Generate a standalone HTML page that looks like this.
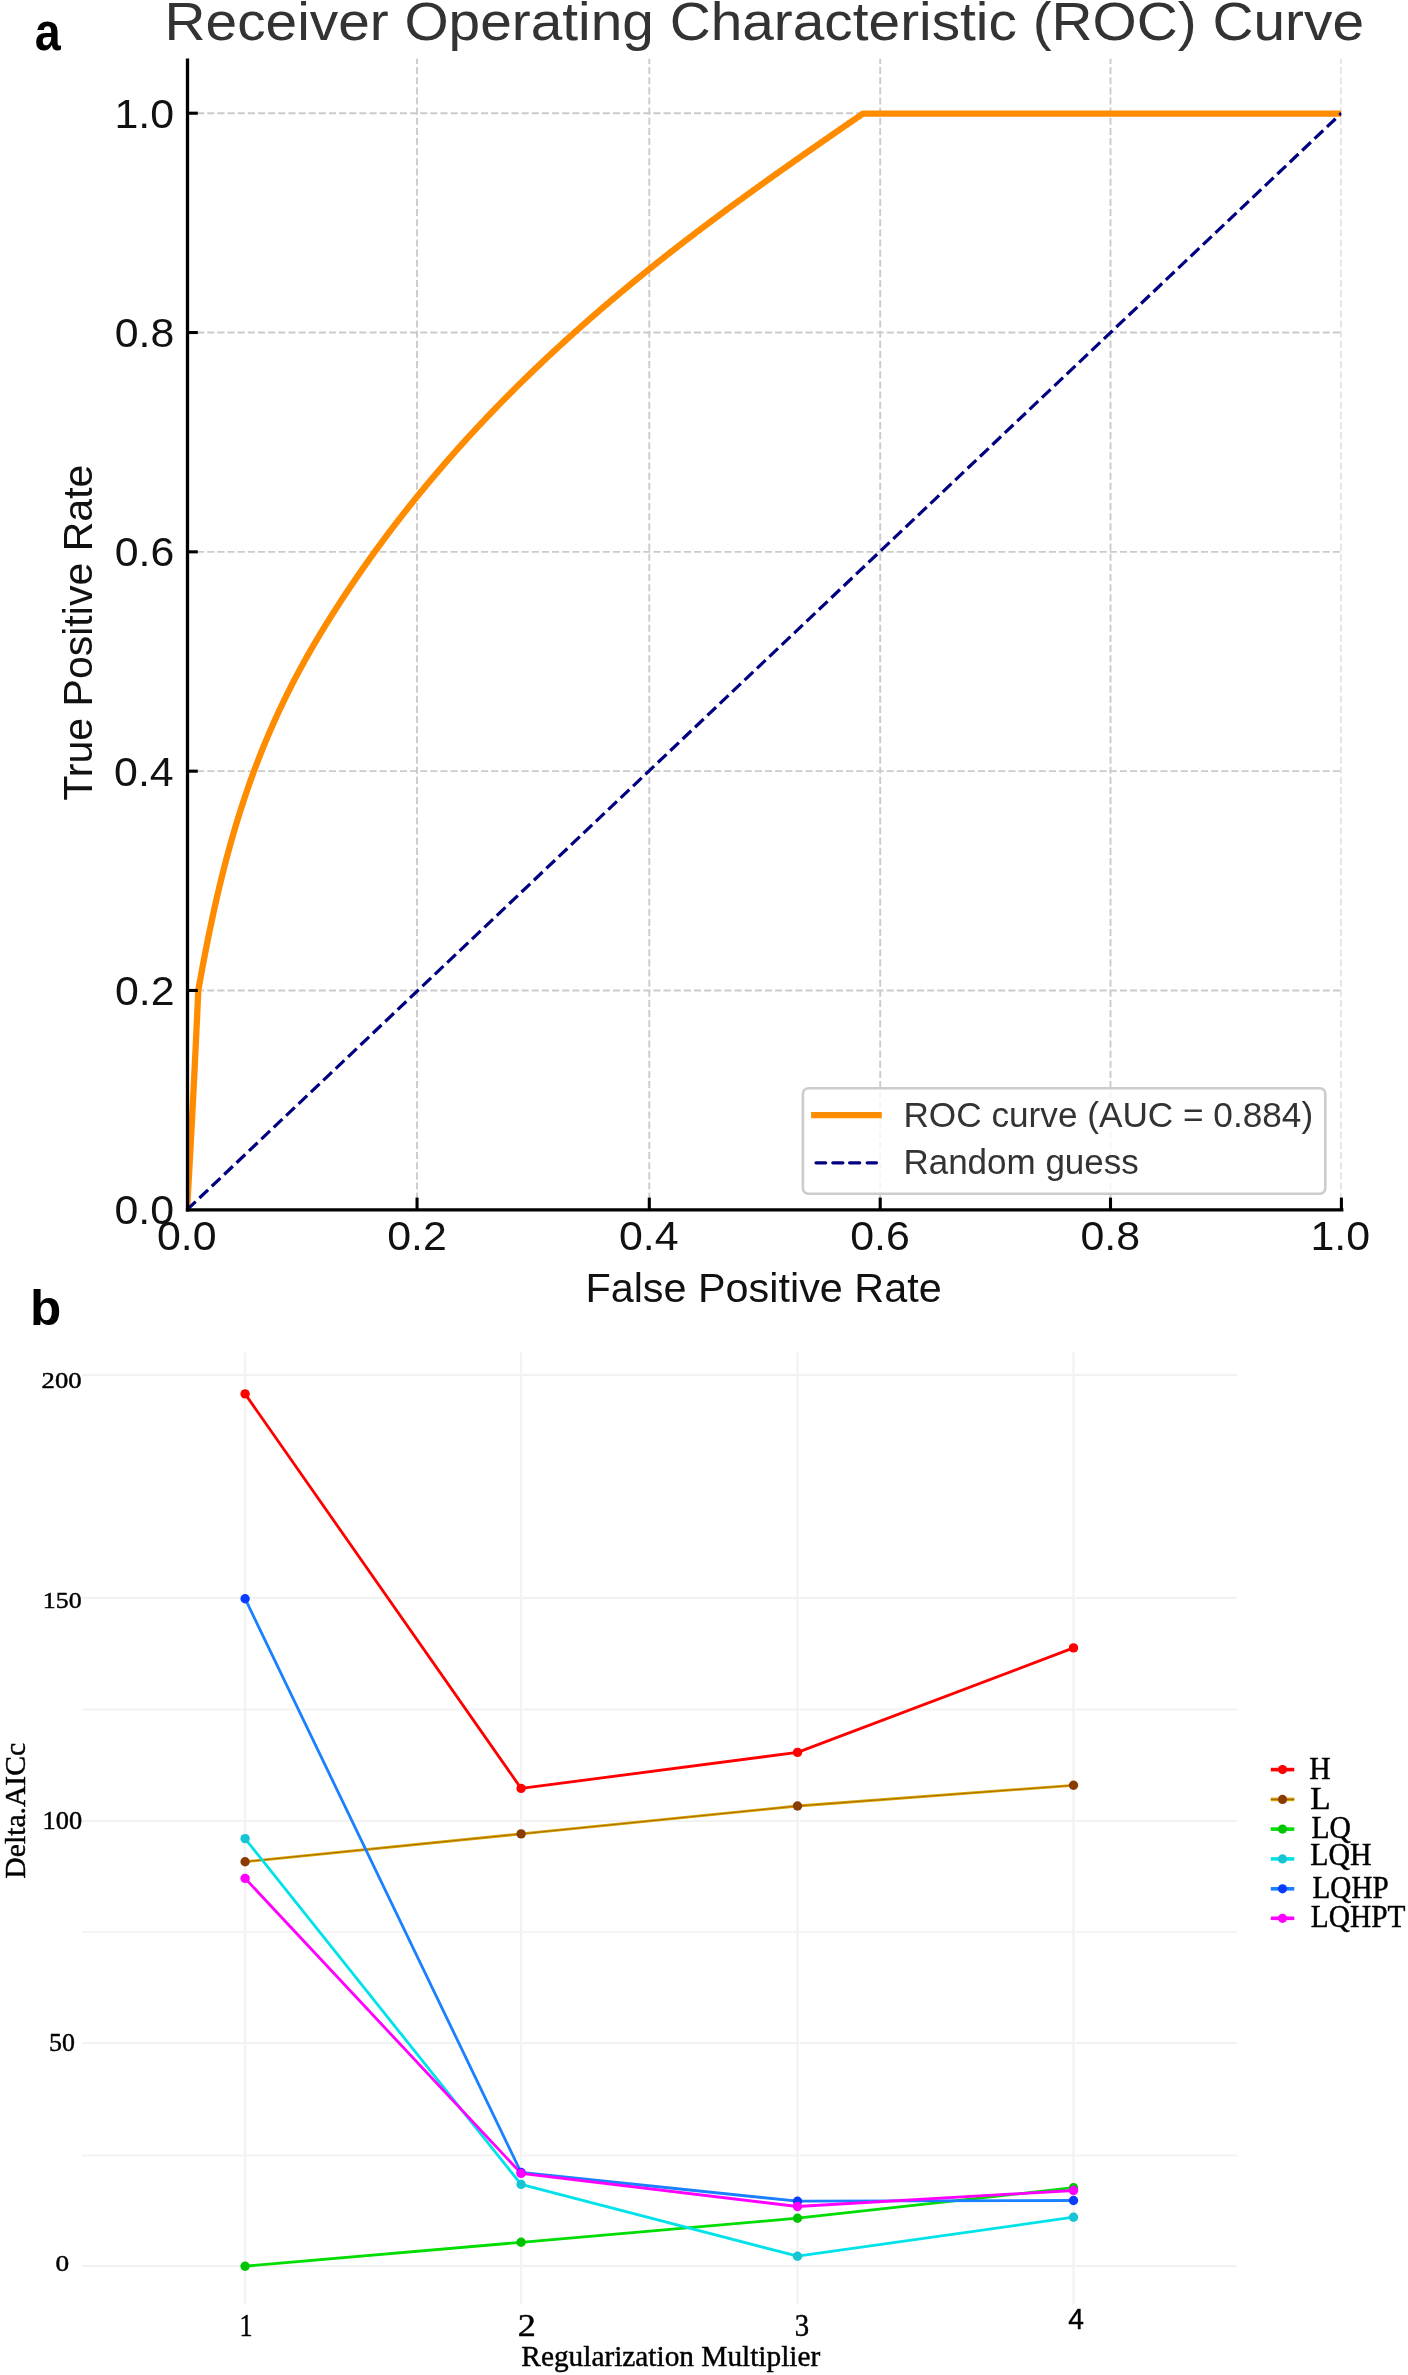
<!DOCTYPE html>
<html><head><meta charset="utf-8"><title>ROC curve and Delta.AICc</title>
<style>html,body{margin:0;padding:0;background:#fff;}svg{display:block;will-change:transform;}</style></head>
<body><svg width="1408" height="2375" viewBox="0 0 1408 2375">
<rect width="1408" height="2375" fill="#fff"/>
<clipPath id="axA"><rect x="187.0" y="58.5" width="1154.40" height="1151.30"/></clipPath>
<g clip-path="url(#axA)">
<path d="M187.00 990.48H1341.40" stroke="#cbcbcb" stroke-width="1.9" stroke-dasharray="7.08 3.06" fill="none"/>
<path d="M187.00 771.16H1341.40" stroke="#cbcbcb" stroke-width="1.9" stroke-dasharray="7.08 3.06" fill="none"/>
<path d="M187.00 551.84H1341.40" stroke="#cbcbcb" stroke-width="1.9" stroke-dasharray="7.08 3.06" fill="none"/>
<path d="M187.00 332.52H1341.40" stroke="#cbcbcb" stroke-width="1.9" stroke-dasharray="7.08 3.06" fill="none"/>
<path d="M187.00 113.20H1341.40" stroke="#cbcbcb" stroke-width="1.9" stroke-dasharray="7.08 3.06" fill="none"/>
<path d="M417.05 1209.80V58.50" stroke="#cbcbcb" stroke-width="1.9" stroke-dasharray="7.08 3.06" fill="none"/>
<path d="M649.30 1209.80V58.50" stroke="#cbcbcb" stroke-width="1.9" stroke-dasharray="7.08 3.06" fill="none"/>
<path d="M880.20 1209.80V58.50" stroke="#cbcbcb" stroke-width="1.9" stroke-dasharray="7.08 3.06" fill="none"/>
<path d="M1110.50 1209.80V58.50" stroke="#cbcbcb" stroke-width="1.9" stroke-dasharray="7.08 3.06" fill="none"/>
<path d="M1341.40 1209.80V58.50" stroke="#cbcbcb" stroke-width="1.9" stroke-dasharray="7.08 3.06" fill="none"/>
</g>
<g clip-path="url(#axA)">
<path d="M187.00 1209.80 L187.33 1204.17 L187.65 1198.54 L187.98 1192.91 L188.30 1187.28 L188.62 1181.65 L188.94 1176.02 L189.25 1170.38 L189.56 1164.75 L189.88 1159.12 L190.19 1153.49 L190.49 1147.86 L190.80 1142.23 L191.10 1136.60 L191.40 1130.97 L191.70 1125.34 L192.00 1119.71 L192.30 1114.08 L192.59 1108.45 L192.88 1102.82 L193.17 1097.18 L193.46 1091.55 L193.75 1085.92 L194.03 1080.29 L194.31 1074.66 L194.59 1069.03 L194.87 1063.40 L195.14 1057.77 L195.42 1052.14 L195.69 1046.51 L195.96 1040.88 L196.23 1035.25 L196.49 1029.62 L196.76 1023.98 L197.02 1018.35 L197.28 1012.72 L197.54 1007.09 L197.79 1001.46 L198.05 995.83 L198.30 990.20 L198.49 989.10 L198.69 988.01 L198.89 986.91 L199.09 985.81 L199.28 984.71 L199.48 983.62 L199.68 982.52 L199.88 981.42 L200.08 980.33 L200.28 979.23 L200.48 978.13 L200.68 977.03 L200.88 975.94 L201.08 974.84 L201.28 973.74 L201.49 972.65 L201.69 971.55 L201.89 970.45 L202.10 969.35 L202.30 968.26 L202.51 967.16 L202.71 966.06 L202.92 964.97 L203.13 963.87 L203.33 962.77 L203.54 961.67 L203.75 960.58 L203.96 959.48 L204.17 958.38 L204.38 957.29 L204.59 956.19 L204.80 955.09 L205.01 953.99 L205.23 952.90 L205.44 951.80 L205.65 950.70 L205.87 949.61 L206.08 948.51 L206.30 947.41 L206.51 946.32 L206.73 945.22 L206.95 944.12 L207.17 943.02 L207.38 941.93 L207.60 940.83 L207.82 939.73 L208.05 938.64 L208.27 937.54 L208.49 936.44 L208.71 935.34 L208.94 934.25 L209.16 933.15 L209.39 932.05 L209.61 930.96 L209.84 929.86 L210.07 928.76 L210.30 927.66 L210.52 926.57 L210.75 925.47 L210.98 924.37 L211.22 923.28 L211.45 922.18 L211.68 921.08 L211.92 919.98 L212.15 918.89 L212.39 917.79 L212.62 916.69 L212.86 915.60 L213.10 914.50 L213.34 913.40 L213.58 912.30 L213.82 911.21 L214.06 910.11 L214.30 909.01 L214.54 907.92 L214.79 906.82 L215.03 905.72 L215.28 904.62 L215.52 903.53 L215.77 902.43 L216.02 901.33 L216.27 900.24 L216.52 899.14 L216.77 898.04 L217.02 896.94 L217.28 895.85 L217.53 894.75 L217.79 893.65 L218.04 892.56 L218.30 891.46 L218.56 890.36 L218.82 889.26 L219.08 888.17 L219.34 887.07 L219.60 885.97 L219.86 884.88 L220.13 883.78 L220.39 882.68 L220.66 881.58 L220.93 880.49 L221.20 879.39 L221.47 878.29 L221.74 877.20 L222.01 876.10 L222.28 875.00 L222.55 873.91 L222.83 872.81 L223.10 871.71 L223.38 870.61 L223.66 869.52 L223.94 868.42 L224.22 867.32 L224.50 866.23 L224.78 865.13 L225.07 864.03 L225.35 862.93 L225.64 861.84 L225.93 860.74 L226.22 859.64 L226.51 858.55 L226.80 857.45 L227.09 856.35 L227.38 855.25 L227.68 854.16 L227.97 853.06 L228.27 851.96 L228.57 850.87 L228.87 849.77 L229.17 848.67 L229.47 847.57 L229.77 846.48 L230.08 845.38 L230.38 844.28 L230.69 843.19 L231.00 842.09 L231.31 840.99 L231.62 839.89 L231.93 838.80 L232.25 837.70 L232.56 836.60 L232.88 835.51 L233.19 834.41 L233.51 833.31 L233.83 832.21 L234.15 831.12 L234.48 830.02 L234.80 828.92 L235.13 827.83 L235.45 826.73 L235.78 825.63 L236.11 824.53 L236.44 823.44 L236.78 822.34 L237.11 821.24 L237.45 820.15 L237.78 819.05 L238.12 817.95 L238.46 816.85 L238.80 815.76 L239.15 814.66 L239.49 813.56 L239.84 812.47 L240.18 811.37 L240.53 810.27 L240.88 809.17 L241.23 808.08 L241.59 806.98 L241.94 805.88 L242.30 804.79 L242.65 803.69 L243.01 802.59 L243.37 801.50 L243.74 800.40 L244.10 799.30 L244.47 798.20 L244.83 797.11 L245.20 796.01 L245.57 794.91 L245.94 793.82 L246.32 792.72 L246.69 791.62 L247.07 790.52 L247.44 789.43 L247.82 788.33 L248.21 787.23 L248.59 786.14 L248.97 785.04 L249.36 783.94 L249.75 782.84 L250.14 781.75 L250.53 780.65 L250.92 779.55 L251.31 778.46 L251.71 777.36 L252.11 776.26 L252.51 775.16 L252.91 774.07 L253.31 772.97 L253.72 771.87 L254.12 770.78 L254.53 769.68 L254.94 768.58 L255.35 767.48 L255.77 766.39 L256.18 765.29 L256.60 764.19 L257.02 763.10 L257.44 762.00 L257.86 760.90 L258.28 759.80 L258.71 758.71 L259.14 757.61 L259.57 756.51 L260.00 755.42 L260.43 754.32 L260.87 753.22 L261.30 752.12 L261.74 751.03 L262.18 749.93 L262.62 748.83 L263.07 747.74 L263.51 746.64 L263.96 745.54 L264.41 744.44 L264.86 743.35 L265.32 742.25 L265.77 741.15 L266.23 740.06 L266.69 738.96 L267.15 737.86 L267.61 736.76 L268.08 735.67 L268.54 734.57 L269.01 733.47 L269.48 732.38 L269.96 731.28 L270.43 730.18 L270.91 729.09 L271.39 727.99 L271.87 726.89 L272.35 725.79 L272.83 724.70 L273.32 723.60 L273.81 722.50 L274.30 721.41 L274.79 720.31 L275.29 719.21 L275.78 718.11 L276.28 717.02 L276.78 715.92 L277.28 714.82 L277.79 713.73 L278.29 712.63 L278.80 711.53 L279.31 710.43 L279.83 709.34 L280.34 708.24 L280.86 707.14 L281.38 706.05 L281.90 704.95 L282.42 703.85 L282.95 702.75 L283.47 701.66 L284.00 700.56 L284.54 699.46 L285.07 698.37 L285.60 697.27 L286.14 696.17 L286.68 695.07 L287.22 693.98 L287.77 692.88 L288.32 691.78 L288.86 690.69 L289.42 689.59 L289.97 688.49 L290.52 687.39 L291.08 686.30 L291.64 685.20 L292.20 684.10 L292.77 683.01 L293.33 681.91 L293.90 680.81 L294.47 679.71 L295.04 678.62 L295.62 677.52 L296.20 676.42 L296.78 675.33 L297.36 674.23 L297.94 673.13 L298.53 672.03 L299.12 670.94 L299.71 669.84 L300.30 668.74 L300.90 667.65 L301.49 666.55 L302.09 665.45 L302.70 664.35 L303.30 663.26 L303.91 662.16 L304.51 661.06 L305.13 659.97 L305.74 658.87 L306.35 657.77 L306.97 656.68 L307.59 655.58 L308.21 654.48 L308.84 653.38 L309.46 652.29 L310.09 651.19 L310.72 650.09 L311.35 649.00 L311.99 647.90 L312.62 646.80 L313.26 645.70 L313.90 644.61 L314.55 643.51 L315.19 642.41 L315.84 641.32 L316.49 640.22 L317.14 639.12 L317.79 638.02 L318.45 636.93 L319.10 635.83 L319.76 634.73 L320.42 633.64 L321.09 632.54 L321.75 631.44 L322.42 630.34 L323.09 629.25 L323.76 628.15 L324.43 627.05 L325.10 625.96 L325.78 624.86 L326.46 623.76 L327.14 622.66 L327.82 621.57 L328.50 620.47 L329.19 619.37 L329.88 618.28 L330.57 617.18 L331.26 616.08 L331.95 614.98 L332.64 613.89 L333.34 612.79 L334.04 611.69 L334.74 610.60 L335.44 609.50 L336.15 608.40 L336.85 607.30 L337.56 606.21 L338.27 605.11 L338.98 604.01 L339.69 602.92 L340.40 601.82 L341.12 600.72 L341.84 599.62 L342.55 598.53 L343.28 597.43 L344.00 596.33 L344.72 595.24 L345.45 594.14 L346.17 593.04 L346.90 591.94 L347.63 590.85 L348.37 589.75 L349.10 588.65 L349.84 587.56 L350.57 586.46 L351.31 585.36 L352.05 584.27 L352.80 583.17 L353.54 582.07 L354.29 580.97 L355.04 579.88 L355.78 578.78 L356.54 577.68 L357.29 576.59 L358.04 575.49 L358.80 574.39 L359.56 573.29 L360.32 572.20 L361.08 571.10 L361.84 570.00 L362.61 568.91 L363.38 567.81 L364.15 566.71 L364.92 565.61 L365.69 564.52 L366.46 563.42 L367.24 562.32 L368.02 561.23 L368.80 560.13 L369.58 559.03 L370.36 557.93 L371.15 556.84 L371.93 555.74 L372.72 554.64 L373.51 553.55 L374.30 552.45 L375.10 551.35 L375.89 550.25 L376.69 549.16 L377.49 548.06 L378.29 546.96 L379.09 545.87 L379.90 544.77 L380.71 543.67 L381.52 542.57 L382.33 541.48 L383.14 540.38 L383.95 539.28 L384.77 538.19 L385.59 537.09 L386.41 535.99 L387.23 534.89 L388.05 533.80 L388.88 532.70 L389.70 531.60 L390.53 530.51 L391.36 529.41 L392.20 528.31 L393.03 527.21 L393.87 526.12 L394.71 525.02 L395.55 523.92 L396.39 522.83 L397.24 521.73 L398.08 520.63 L398.93 519.53 L399.78 518.44 L400.63 517.34 L401.49 516.24 L402.34 515.15 L403.20 514.05 L404.06 512.95 L404.92 511.86 L405.79 510.76 L406.65 509.66 L407.52 508.56 L408.39 507.47 L409.26 506.37 L410.13 505.27 L411.01 504.18 L411.89 503.08 L412.77 501.98 L413.65 500.88 L414.53 499.79 L415.42 498.69 L416.30 497.59 L417.19 496.50 L418.08 495.40 L418.98 494.30 L419.87 493.20 L420.77 492.11 L421.67 491.01 L422.57 489.91 L423.47 488.82 L424.38 487.72 L425.29 486.62 L426.20 485.52 L427.11 484.43 L428.02 483.33 L428.94 482.23 L429.85 481.14 L430.77 480.04 L431.70 478.94 L432.62 477.84 L433.55 476.75 L434.47 475.65 L435.40 474.55 L436.34 473.46 L437.27 472.36 L438.21 471.26 L439.14 470.16 L440.08 469.07 L441.03 467.97 L441.97 466.87 L442.92 465.78 L443.87 464.68 L444.82 463.58 L445.77 462.48 L446.72 461.39 L447.68 460.29 L448.64 459.19 L449.60 458.10 L450.57 457.00 L451.53 455.90 L452.50 454.80 L453.47 453.71 L454.44 452.61 L455.41 451.51 L456.39 450.42 L457.37 449.32 L458.35 448.22 L459.33 447.12 L460.32 446.03 L461.30 444.93 L462.29 443.83 L463.28 442.74 L464.28 441.64 L465.27 440.54 L466.27 439.45 L467.27 438.35 L468.27 437.25 L469.28 436.15 L470.28 435.06 L471.29 433.96 L472.30 432.86 L473.31 431.77 L474.33 430.67 L475.35 429.57 L476.37 428.47 L477.39 427.38 L478.41 426.28 L479.44 425.18 L480.47 424.09 L481.50 422.99 L482.53 421.89 L483.57 420.79 L484.60 419.70 L485.64 418.60 L486.68 417.50 L487.73 416.41 L488.77 415.31 L489.82 414.21 L490.87 413.11 L491.93 412.02 L492.98 410.92 L494.04 409.82 L495.10 408.73 L496.16 407.63 L497.23 406.53 L498.29 405.43 L499.36 404.34 L500.43 403.24 L501.51 402.14 L502.58 401.05 L503.66 399.95 L504.74 398.85 L505.82 397.75 L506.91 396.66 L508.00 395.56 L509.09 394.46 L510.18 393.37 L511.27 392.27 L512.37 391.17 L513.47 390.07 L514.57 388.98 L515.67 387.88 L516.78 386.78 L517.89 385.69 L519.00 384.59 L520.11 383.49 L521.23 382.39 L522.35 381.30 L523.47 380.20 L524.59 379.10 L525.71 378.01 L526.84 376.91 L527.97 375.81 L529.10 374.71 L530.24 373.62 L531.37 372.52 L532.51 371.42 L533.65 370.33 L534.80 369.23 L535.94 368.13 L537.09 367.04 L538.24 365.94 L539.40 364.84 L540.55 363.74 L541.71 362.65 L542.87 361.55 L544.03 360.45 L545.20 359.36 L546.37 358.26 L547.54 357.16 L548.71 356.06 L549.88 354.97 L551.06 353.87 L552.24 352.77 L553.42 351.68 L554.61 350.58 L555.79 349.48 L556.98 348.38 L558.18 347.29 L559.37 346.19 L560.57 345.09 L561.77 344.00 L562.97 342.90 L564.17 341.80 L565.38 340.70 L566.58 339.61 L567.80 338.51 L569.01 337.41 L570.22 336.32 L571.44 335.22 L572.66 334.12 L573.89 333.02 L575.11 331.93 L576.34 330.83 L577.57 329.73 L578.80 328.64 L580.04 327.54 L581.27 326.44 L582.51 325.34 L583.76 324.25 L585.00 323.15 L586.25 322.05 L587.50 320.96 L588.75 319.86 L590.00 318.76 L591.26 317.66 L592.52 316.57 L593.78 315.47 L595.04 314.37 L596.31 313.28 L597.58 312.18 L598.85 311.08 L600.12 309.98 L601.40 308.89 L602.68 307.79 L603.96 306.69 L605.24 305.60 L606.53 304.50 L607.82 303.40 L609.11 302.30 L610.40 301.21 L611.69 300.11 L612.99 299.01 L614.29 297.92 L615.59 296.82 L616.90 295.72 L618.21 294.63 L619.52 293.53 L620.83 292.43 L622.14 291.33 L623.46 290.24 L624.78 289.14 L626.10 288.04 L627.43 286.95 L628.75 285.85 L630.08 284.75 L631.41 283.65 L632.75 282.56 L634.08 281.46 L635.42 280.36 L636.76 279.27 L638.11 278.17 L639.45 277.07 L640.80 275.97 L642.15 274.88 L643.51 273.78 L644.86 272.68 L646.22 271.59 L647.58 270.49 L648.95 269.39 L650.31 268.29 L651.68 267.20 L653.05 266.10 L654.42 265.00 L655.80 263.91 L657.18 262.81 L658.56 261.71 L659.94 260.61 L661.32 259.52 L662.71 258.42 L664.10 257.32 L665.49 256.23 L666.89 255.13 L668.29 254.03 L669.69 252.93 L671.09 251.84 L672.49 250.74 L673.90 249.64 L675.31 248.55 L676.72 247.45 L678.14 246.35 L679.55 245.25 L680.97 244.16 L682.39 243.06 L683.82 241.96 L685.24 240.87 L686.67 239.77 L688.10 238.67 L689.54 237.57 L690.97 236.48 L692.41 235.38 L693.85 234.28 L695.30 233.19 L696.74 232.09 L698.19 230.99 L699.64 229.89 L701.09 228.80 L702.55 227.70 L704.01 226.60 L705.47 225.51 L706.93 224.41 L708.39 223.31 L709.86 222.22 L711.32 221.12 L712.79 220.02 L714.27 218.92 L715.74 217.83 L717.22 216.73 L718.70 215.63 L720.18 214.54 L721.66 213.44 L723.14 212.34 L724.63 211.24 L726.12 210.15 L727.61 209.05 L729.10 207.95 L730.60 206.86 L732.09 205.76 L733.59 204.66 L735.09 203.56 L736.60 202.47 L738.10 201.37 L739.61 200.27 L741.11 199.18 L742.62 198.08 L744.13 196.98 L745.65 195.88 L747.16 194.79 L748.68 193.69 L750.20 192.59 L751.72 191.50 L753.24 190.40 L754.76 189.30 L756.29 188.20 L757.81 187.11 L759.34 186.01 L760.87 184.91 L762.41 183.82 L763.94 182.72 L765.47 181.62 L767.01 180.52 L768.55 179.43 L770.09 178.33 L771.63 177.23 L773.17 176.14 L774.71 175.04 L776.26 173.94 L777.81 172.84 L779.36 171.75 L780.90 170.65 L782.46 169.55 L784.01 168.46 L785.56 167.36 L787.12 166.26 L788.67 165.16 L790.23 164.07 L791.79 162.97 L793.35 161.87 L794.91 160.78 L796.47 159.68 L798.04 158.58 L799.60 157.48 L801.17 156.39 L802.74 155.29 L804.31 154.19 L805.88 153.10 L807.45 152.00 L809.02 150.90 L810.59 149.81 L812.17 148.71 L813.74 147.61 L815.32 146.51 L816.90 145.42 L818.47 144.32 L820.05 143.22 L821.63 142.13 L823.22 141.03 L824.80 139.93 L826.38 138.83 L827.97 137.74 L829.55 136.64 L831.14 135.54 L832.72 134.45 L834.31 133.35 L835.90 132.25 L837.49 131.15 L839.08 130.06 L840.67 128.96 L842.26 127.86 L843.85 126.77 L845.45 125.67 L847.04 124.57 L848.64 123.47 L850.23 122.38 L851.83 121.28 L853.42 120.18 L855.02 119.09 L856.62 117.99 L858.22 116.89 L859.81 115.79 L861.41 114.70 L863.00 113.60 L1341.40 113.60" stroke="#ff8c00" stroke-width="6.3" fill="none" stroke-linejoin="round"/>
<path d="M187.00 1209.80L1341.40 113.20" stroke="#000080" stroke-width="3.2" stroke-dasharray="11.93 5.16" fill="none"/>
</g>
<path d="M187.5 58.5V1211.5" stroke="#000" stroke-width="3.3" fill="none"/>
<path d="M185.85 1209.8H1343.4" stroke="#000" stroke-width="3.3" fill="none"/>
<path d="M187.5 990.48H197.8" stroke="#000" stroke-width="3.1"/>
<path d="M187.5 771.16H197.8" stroke="#000" stroke-width="3.1"/>
<path d="M187.5 551.84H197.8" stroke="#000" stroke-width="3.1"/>
<path d="M187.5 332.52H197.8" stroke="#000" stroke-width="3.1"/>
<path d="M187.5 113.20H197.8" stroke="#000" stroke-width="3.1"/>
<path d="M417.05 1209.8V1197.6" stroke="#000" stroke-width="3.1"/>
<path d="M649.30 1209.8V1197.6" stroke="#000" stroke-width="3.1"/>
<path d="M880.20 1209.8V1197.6" stroke="#000" stroke-width="3.1"/>
<path d="M1110.50 1209.8V1197.6" stroke="#000" stroke-width="3.1"/>
<path d="M1341.40 1209.8V1197.6" stroke="#000" stroke-width="3.1"/>
<text x="114.53" y="1224.20" font-family='"Liberation Sans", sans-serif' font-size="40.00" textLength="59.55" lengthAdjust="spacingAndGlyphs" fill="#111">0.0</text>
<text x="115.01" y="1004.88" font-family='"Liberation Sans", sans-serif' font-size="40.00" textLength="59.55" lengthAdjust="spacingAndGlyphs" fill="#111">0.2</text>
<text x="114.11" y="785.56" font-family='"Liberation Sans", sans-serif' font-size="40.00" textLength="59.55" lengthAdjust="spacingAndGlyphs" fill="#111">0.4</text>
<text x="114.74" y="566.24" font-family='"Liberation Sans", sans-serif' font-size="40.00" textLength="59.55" lengthAdjust="spacingAndGlyphs" fill="#111">0.6</text>
<text x="114.71" y="346.92" font-family='"Liberation Sans", sans-serif' font-size="40.00" textLength="59.55" lengthAdjust="spacingAndGlyphs" fill="#111">0.8</text>
<text x="114.53" y="127.60" font-family='"Liberation Sans", sans-serif' font-size="40.00" textLength="59.55" lengthAdjust="spacingAndGlyphs" fill="#111">1.0</text>
<text x="156.93" y="1250.00" font-family='"Liberation Sans", sans-serif' font-size="40.00" textLength="59.55" lengthAdjust="spacingAndGlyphs" fill="#111">0.0</text>
<text x="387.22" y="1250.00" font-family='"Liberation Sans", sans-serif' font-size="40.00" textLength="59.55" lengthAdjust="spacingAndGlyphs" fill="#111">0.2</text>
<text x="619.02" y="1250.00" font-family='"Liberation Sans", sans-serif' font-size="40.00" textLength="59.55" lengthAdjust="spacingAndGlyphs" fill="#111">0.4</text>
<text x="850.23" y="1250.00" font-family='"Liberation Sans", sans-serif' font-size="40.00" textLength="59.55" lengthAdjust="spacingAndGlyphs" fill="#111">0.6</text>
<text x="1080.52" y="1250.00" font-family='"Liberation Sans", sans-serif' font-size="40.00" textLength="59.55" lengthAdjust="spacingAndGlyphs" fill="#111">0.8</text>
<text x="1310.53" y="1250.00" font-family='"Liberation Sans", sans-serif' font-size="40.00" textLength="59.55" lengthAdjust="spacingAndGlyphs" fill="#111">1.0</text>
<text x="585.41" y="1301.60" font-family='"Liberation Sans", sans-serif' font-size="41.50" textLength="356.23" lengthAdjust="spacingAndGlyphs" fill="#111">False Positive Rate</text>
<g transform="rotate(-90)">
<text x="-800.82" y="92.10" font-family='"Liberation Sans", sans-serif' font-size="41.50" textLength="336.23" lengthAdjust="spacingAndGlyphs" fill="#111">True Positive Rate</text>
</g>
<text x="164.54" y="39.90" font-family='"Liberation Sans", sans-serif' font-size="54.20" textLength="1199.48" lengthAdjust="spacingAndGlyphs" fill="#333">Receiver Operating Characteristic (ROC) Curve</text>
<rect x="802.9" y="1088.3" width="522.4" height="105.4" rx="5.5" ry="5.5" fill="#fff" fill-opacity="0.8" stroke="#cccccc" stroke-width="2.6"/>
<path d="M811.1 1115.2H881.8" stroke="#ff8c00" stroke-width="6.3"/>
<path d="M816 1162.8H825.7" stroke="#000080" stroke-width="3.2" stroke-linecap="round"/>
<path d="M832.8 1162.8H842.9" stroke="#000080" stroke-width="3.2" stroke-linecap="round"/>
<path d="M849.6 1162.8H859.7" stroke="#000080" stroke-width="3.2" stroke-linecap="round"/>
<path d="M867.2 1162.8H876.5" stroke="#000080" stroke-width="3.2" stroke-linecap="round"/>
<text x="903.41" y="1126.60" font-family='"Liberation Sans", sans-serif' font-size="34.40" textLength="409.77" lengthAdjust="spacingAndGlyphs" fill="#333">ROC curve (AUC = 0.884)</text>
<text x="903.43" y="1173.50" font-family='"Liberation Sans", sans-serif' font-size="34.40" textLength="235.33" lengthAdjust="spacingAndGlyphs" fill="#333">Random guess</text>
<text x="34.63" y="49.50" font-family='"Liberation Sans", sans-serif' font-weight="bold" font-size="53.30" textLength="25.97" lengthAdjust="spacingAndGlyphs" fill="#000">a</text>
<text x="30.02" y="1325.20" font-family='"Liberation Sans", sans-serif' font-weight="bold" font-size="50.80" textLength="31.28" lengthAdjust="spacingAndGlyphs" fill="#000">b</text>
<path d="M82 1709.4H1237" stroke="#f4f4f4" stroke-width="2.2"/>
<path d="M82 1932.0H1237" stroke="#f4f4f4" stroke-width="2.2"/>
<path d="M82 2155.3H1237" stroke="#f4f4f4" stroke-width="2.2"/>
<path d="M82 1374.9H1237" stroke="#f2f2f2" stroke-width="2.2"/>
<path d="M82 1597.8H1237" stroke="#f2f2f2" stroke-width="2.2"/>
<path d="M82 1821.0H1237" stroke="#f2f2f2" stroke-width="2.2"/>
<path d="M82 2043.2H1237" stroke="#f2f2f2" stroke-width="2.2"/>
<path d="M82 2266.1H1237" stroke="#f2f2f2" stroke-width="2.2"/>
<path d="M245.1 1352.5V2304.3" stroke="#f3f3f3" stroke-width="2.4"/>
<path d="M521.1 1352.5V2304.3" stroke="#f3f3f3" stroke-width="2.4"/>
<path d="M797.5 1352.5V2304.3" stroke="#f3f3f3" stroke-width="2.4"/>
<path d="M1073.5 1352.5V2304.3" stroke="#f3f3f3" stroke-width="2.4"/>
<path d="M245.1 1393.9 L521.1 1788.4 L797.5 1752.4 L1073.5 1647.9" stroke="#ff0000" stroke-width="2.8" fill="none" stroke-linejoin="round"/>
<path d="M245.1 1861.7 L521.1 1833.9 L797.5 1806.0 L1073.5 1785.3" stroke="#d6a400" stroke-width="2.8" fill="none" stroke-linejoin="round"/>
<path d="M245.1 1861.7 L521.1 1833.9 L797.5 1806.0 L1073.5 1785.3" stroke="#a86400" stroke-width="0.9" fill="none" stroke-linejoin="round"/>
<path d="M245.1 2266.2 L521.1 2242.3 L797.5 2218.2 L1073.5 2187.7" stroke="#00dd00" stroke-width="2.8" fill="none" stroke-linejoin="round"/>
<path d="M245.1 1838.6 L521.1 2184.4 L797.5 2256.2 L1073.5 2217.2" stroke="#00e2ea" stroke-width="2.8" fill="none" stroke-linejoin="round"/>
<path d="M245.1 1598.7 L521.1 2172.5 L797.5 2201.2 L1073.5 2200.5" stroke="#1a80ff" stroke-width="2.8" fill="none" stroke-linejoin="round"/>
<path d="M245.1 1878.4 L521.1 2173.4 L797.5 2206.5 L1073.5 2190.5" stroke="#ff00ff" stroke-width="2.8" fill="none" stroke-linejoin="round"/>
<circle cx="245.1" cy="1393.9" r="4.7" fill="#ff0000"/>
<circle cx="521.1" cy="1788.4" r="4.7" fill="#ff0000"/>
<circle cx="797.5" cy="1752.4" r="4.7" fill="#ff0000"/>
<circle cx="1073.5" cy="1647.9" r="4.7" fill="#ff0000"/>
<circle cx="245.1" cy="1861.7" r="4.7" fill="#8a3c00"/>
<circle cx="521.1" cy="1833.9" r="4.7" fill="#8a3c00"/>
<circle cx="797.5" cy="1806.0" r="4.7" fill="#8a3c00"/>
<circle cx="1073.5" cy="1785.3" r="4.7" fill="#8a3c00"/>
<circle cx="245.1" cy="2266.2" r="4.7" fill="#00c400"/>
<circle cx="521.1" cy="2242.3" r="4.7" fill="#00c400"/>
<circle cx="797.5" cy="2218.2" r="4.7" fill="#00c400"/>
<circle cx="1073.5" cy="2187.7" r="4.7" fill="#00c400"/>
<circle cx="245.1" cy="1838.6" r="4.7" fill="#16c4d3"/>
<circle cx="521.1" cy="2184.4" r="4.7" fill="#16c4d3"/>
<circle cx="797.5" cy="2256.2" r="4.7" fill="#16c4d3"/>
<circle cx="1073.5" cy="2217.2" r="4.7" fill="#16c4d3"/>
<circle cx="245.1" cy="1598.7" r="4.7" fill="#0a3cff"/>
<circle cx="521.1" cy="2172.5" r="4.7" fill="#0a3cff"/>
<circle cx="797.5" cy="2201.2" r="4.7" fill="#0a3cff"/>
<circle cx="1073.5" cy="2200.5" r="4.7" fill="#0a3cff"/>
<circle cx="245.1" cy="1878.4" r="4.7" fill="#ff00ff"/>
<circle cx="521.1" cy="2173.4" r="4.7" fill="#ff00ff"/>
<circle cx="797.5" cy="2206.5" r="4.7" fill="#ff00ff"/>
<circle cx="1073.5" cy="2190.5" r="4.7" fill="#ff00ff"/>
<path d="M1270.8 1769.6H1294.3" stroke="#ff0000" stroke-width="3.6"/>
<circle cx="1282.5" cy="1769.6" r="4.6" fill="#ff0000"/>
<text x="1309.15" y="1778.60" font-family='"Liberation Serif", serif' font-size="30.50" textLength="21.42" lengthAdjust="spacingAndGlyphs" fill="#000" stroke="#000" stroke-width="0.45">H</text>
<path d="M1270.8 1799.4H1294.3" stroke="#d6a400" stroke-width="3.6"/>
<path d="M1270.8 1799.4H1294.3" stroke="#a86400" stroke-width="1.1"/>
<circle cx="1282.5" cy="1799.4" r="4.6" fill="#8a3c00"/>
<text x="1310.24" y="1808.60" font-family='"Liberation Serif", serif' font-size="30.50" textLength="20.36" lengthAdjust="spacingAndGlyphs" fill="#000" stroke="#000" stroke-width="0.45">L</text>
<path d="M1270.8 1829.1H1294.3" stroke="#00dd00" stroke-width="3.6"/>
<circle cx="1282.5" cy="1829.1" r="4.6" fill="#00c400"/>
<text x="1311.45" y="1838.10" font-family='"Liberation Serif", serif' font-size="30.50" textLength="39.46" lengthAdjust="spacingAndGlyphs" fill="#000" stroke="#000" stroke-width="0.45">LQ</text>
<path d="M1270.8 1858.9H1294.3" stroke="#00e2ea" stroke-width="3.6"/>
<circle cx="1282.5" cy="1858.9" r="4.6" fill="#16c4d3"/>
<text x="1310.34" y="1865.00" font-family='"Liberation Serif", serif' font-size="30.50" textLength="61.13" lengthAdjust="spacingAndGlyphs" fill="#000" stroke="#000" stroke-width="0.45">LQH</text>
<path d="M1270.8 1888.8H1294.3" stroke="#1a80ff" stroke-width="3.6"/>
<circle cx="1282.5" cy="1888.8" r="4.6" fill="#0a3cff"/>
<text x="1312.56" y="1898.40" font-family='"Liberation Serif", serif' font-size="30.50" textLength="76.11" lengthAdjust="spacingAndGlyphs" fill="#000" stroke="#000" stroke-width="0.45">LQHP</text>
<path d="M1270.8 1918.3H1294.3" stroke="#ff00ff" stroke-width="3.6"/>
<circle cx="1282.5" cy="1918.3" r="4.6" fill="#ff00ff"/>
<text x="1310.85" y="1927.30" font-family='"Liberation Serif", serif' font-size="30.50" textLength="94.53" lengthAdjust="spacingAndGlyphs" fill="#000" stroke="#000" stroke-width="0.45">LQHPT</text>
<text x="521.36" y="2365.70" font-family='"Liberation Serif", serif' font-size="30.00" textLength="298.90" lengthAdjust="spacingAndGlyphs" fill="#000" stroke="#000" stroke-width="0.45">Regularization Multiplier</text>
<g transform="rotate(-90)">
<text x="-1878.65" y="24.60" font-family='"Liberation Serif", serif' font-size="30.00" textLength="135.77" lengthAdjust="spacingAndGlyphs" fill="#000" stroke="#000" stroke-width="0.45">Delta.AICc</text>
</g>
<text x="239.60" y="2335.70" font-family='"Liberation Serif", serif' font-size="31.36" textLength="13.07" lengthAdjust="spacingAndGlyphs" fill="#000" stroke="#000" stroke-width="0.45">1</text>
<text x="517.81" y="2335.60" font-family='"Liberation Serif", serif' font-size="31.26" textLength="18.09" lengthAdjust="spacingAndGlyphs" fill="#000" stroke="#000" stroke-width="0.45">2</text>
<text x="794.82" y="2335.50" font-family='"Liberation Serif", serif' font-size="30.81" textLength="14.40" lengthAdjust="spacingAndGlyphs" fill="#000" stroke="#000" stroke-width="0.45">3</text>
<text x="1068.35" y="2328.80" font-family='"Liberation Sans", sans-serif' font-size="30.38" textLength="15.67" lengthAdjust="spacingAndGlyphs" fill="#000" stroke="#000" stroke-width="0.45">4</text>
<text x="41.63" y="1387.97" font-family='"Liberation Serif", serif' font-size="23.56" textLength="39.99" lengthAdjust="spacingAndGlyphs" fill="#000" stroke="#000" stroke-width="0.45">200</text>
<text x="42.83" y="1608.07" font-family='"Liberation Serif", serif' font-size="23.41" textLength="38.75" lengthAdjust="spacingAndGlyphs" fill="#000" stroke="#000" stroke-width="0.45">150</text>
<text x="42.58" y="1828.86" font-family='"Liberation Serif", serif' font-size="24.16" textLength="39.52" lengthAdjust="spacingAndGlyphs" fill="#000" stroke="#000" stroke-width="0.45">100</text>
<text x="49.10" y="2050.66" font-family='"Liberation Serif", serif' font-size="24.75" textLength="25.89" lengthAdjust="spacingAndGlyphs" fill="#000" stroke="#000" stroke-width="0.45">50</text>
<text x="55.56" y="2270.87" font-family='"Liberation Serif", serif' font-size="23.56" textLength="13.68" lengthAdjust="spacingAndGlyphs" fill="#000" stroke="#000" stroke-width="0.45">0</text>
</svg></body></html>
